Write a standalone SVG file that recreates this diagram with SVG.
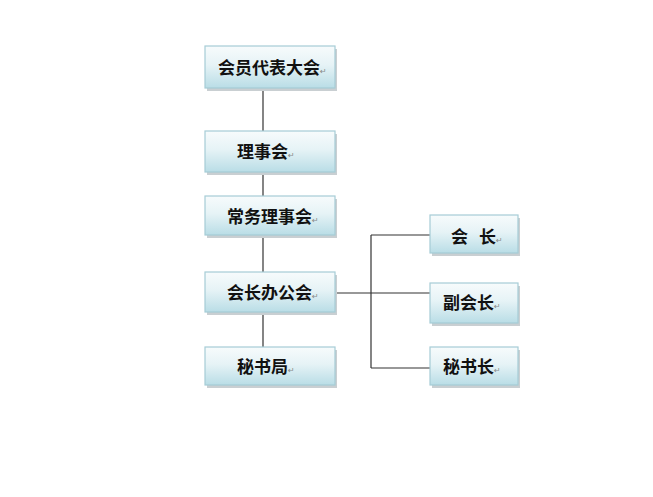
<svg xmlns="http://www.w3.org/2000/svg" width="653" height="497" viewBox="0 0 653 497">
<defs>
<linearGradient id="g" x1="0" y1="0" x2="0" y2="1">
<stop offset="0" stop-color="#f7fbfc"/>
<stop offset="0.45" stop-color="#e6f3f6"/>
<stop offset="1" stop-color="#b9dde6"/>
</linearGradient>
<style>
.sh{fill:#c9cfd2;}
.bx{fill:url(#g);stroke:#a6ccd6;stroke-width:1.2;}
.t{font-family:"Noto Sans CJK SC","Liberation Sans",sans-serif;font-size:17px;font-weight:bold;fill:#111;}
.r{font-family:"DejaVu Sans",sans-serif;font-size:8px;font-weight:normal;fill:#888;}
.ln{stroke:#333;stroke-width:1.2;fill:none;}
</style>
</defs>
<rect width="653" height="497" fill="#fff"/>
<g id="connectors">
<line class="ln" x1="263" y1="88" x2="263" y2="347"/>
<line class="ln" x1="335" y1="293" x2="430" y2="293"/>
<line class="ln" x1="371" y1="235" x2="371" y2="368"/>
<line class="ln" x1="371" y1="235" x2="430" y2="235"/>
<line class="ln" x1="371" y1="368" x2="430" y2="368"/>
</g>
<g id="n1">
<rect class="sh" x="207" y="49" width="130" height="42"/>
<rect class="bx" x="205" y="46" width="130" height="42"/>
<text class="t" x="218" y="74">会员代表大会<tspan class="r">↵</tspan></text>
</g>
<g id="n2">
<rect class="sh" x="207" y="134" width="130" height="41"/>
<rect class="bx" x="205" y="131" width="130" height="41"/>
<text class="t" x="237" y="158">理事会<tspan class="r">↵</tspan></text>
</g>
<g id="n3">
<rect class="sh" x="207" y="199" width="130" height="39"/>
<rect class="bx" x="205" y="196" width="130" height="39"/>
<text class="t" x="227" y="223">常务理事会<tspan class="r">↵</tspan></text>
</g>
<g id="n4">
<rect class="sh" x="207" y="275" width="130" height="40"/>
<rect class="bx" x="205" y="272" width="130" height="40"/>
<text class="t" x="227" y="299">会长办公会<tspan class="r">↵</tspan></text>
</g>
<g id="n5">
<rect class="sh" x="207" y="350" width="130" height="38"/>
<rect class="bx" x="205" y="347" width="130" height="38"/>
<text class="t" x="237" y="373">秘书局<tspan class="r">↵</tspan></text>
</g>
<g id="n6">
<rect class="sh" x="432" y="218" width="88" height="38"/>
<rect class="bx" x="430" y="215" width="88" height="38"/>
<text class="t" x="451" y="243">会<tspan x="479">长</tspan><tspan class="r">↵</tspan></text>
</g>
<g id="n7">
<rect class="sh" x="432" y="286" width="88" height="40"/>
<rect class="bx" x="430" y="283" width="88" height="40"/>
<text class="t" x="443" y="309">副会长<tspan class="r">↵</tspan></text>
</g>
<g id="n8">
<rect class="sh" x="432" y="350" width="88" height="38"/>
<rect class="bx" x="430" y="347" width="88" height="38"/>
<text class="t" x="443" y="373">秘书长<tspan class="r">↵</tspan></text>
</g>
</svg>
